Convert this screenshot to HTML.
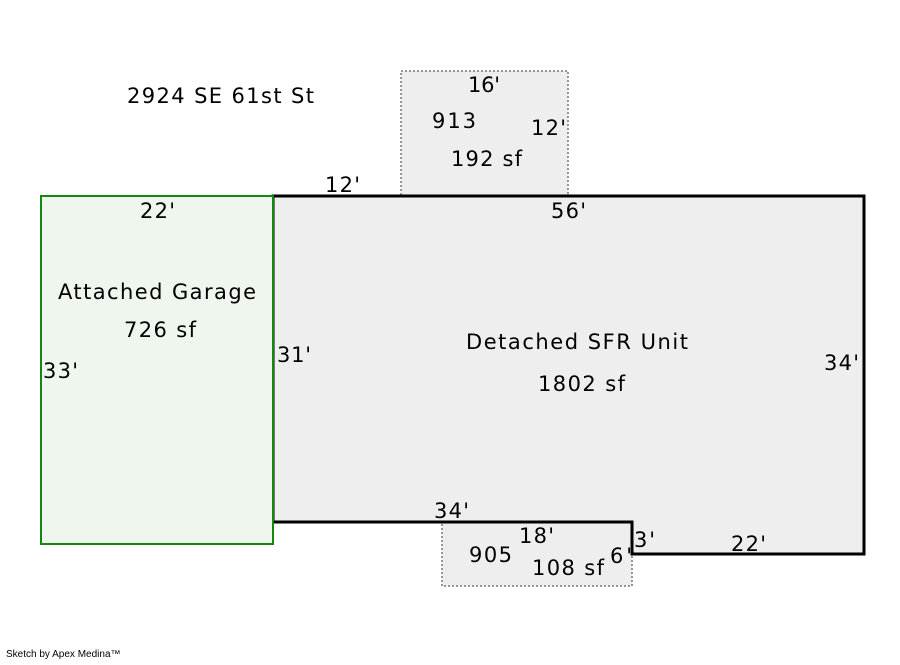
<!DOCTYPE html>
<html><head><style>
html,body{margin:0;padding:0;background:#fff;}
svg text{font-family:"DejaVu Sans",sans-serif;font-size:21px;fill:#000;}
</style></head><body>
<svg width="900" height="660" viewBox="0 0 900 660" xmlns="http://www.w3.org/2000/svg">
<rect x="401" y="71" width="167" height="125" fill="#eeeeee" stroke="#777" stroke-width="1.5" stroke-dasharray="2,2"/>
<rect x="442" y="522" width="190" height="64" fill="#eeeeee" stroke="#777" stroke-width="1.5" stroke-dasharray="2,2"/>
<polygon points="273,196 864,196 864,554 632,554 632,522 273,522" fill="#eeeeee" stroke="#000" stroke-width="3"/>
<rect x="41" y="196" width="232" height="348" fill="#eef6ee" stroke="#118811" stroke-width="2"/>
<text x="127" y="103" textLength="187">2924 SE 61st St</text>
<text x="468" y="92" textLength="32">16'</text>
<text x="432" y="128" textLength="44">913</text>
<text x="531" y="135" textLength="35">12'</text>
<text x="451" y="166" textLength="71">192 sf</text>
<text x="325" y="192" textLength="35">12'</text>
<text x="140" y="218" textLength="35">22'</text>
<text x="551" y="218" textLength="35">56'</text>
<text x="58" y="299" textLength="198">Attached Garage</text>
<text x="124" y="337" textLength="72">726 sf</text>
<text x="277" y="362" textLength="34">31'</text>
<text x="43" y="378" textLength="35">33'</text>
<text x="466" y="349" textLength="222">Detached SFR Unit</text>
<text x="538" y="391" textLength="87">1802 sf</text>
<text x="824" y="370" textLength="35">34'</text>
<text x="434" y="518" textLength="35">34'</text>
<text x="519" y="543" textLength="35">18'</text>
<text x="469" y="562" textLength="43">905</text>
<text x="532" y="575" textLength="72">108 sf</text>
<text x="610" y="563" textLength="22">6'</text>
<text x="634" y="547" textLength="21">3'</text>
<text x="731" y="551" textLength="35">22'</text>
<text x="6" y="657" style="font-family:'Liberation Sans',sans-serif;font-size:10px">Sketch by Apex Medina™</text>
</svg>
</body></html>
